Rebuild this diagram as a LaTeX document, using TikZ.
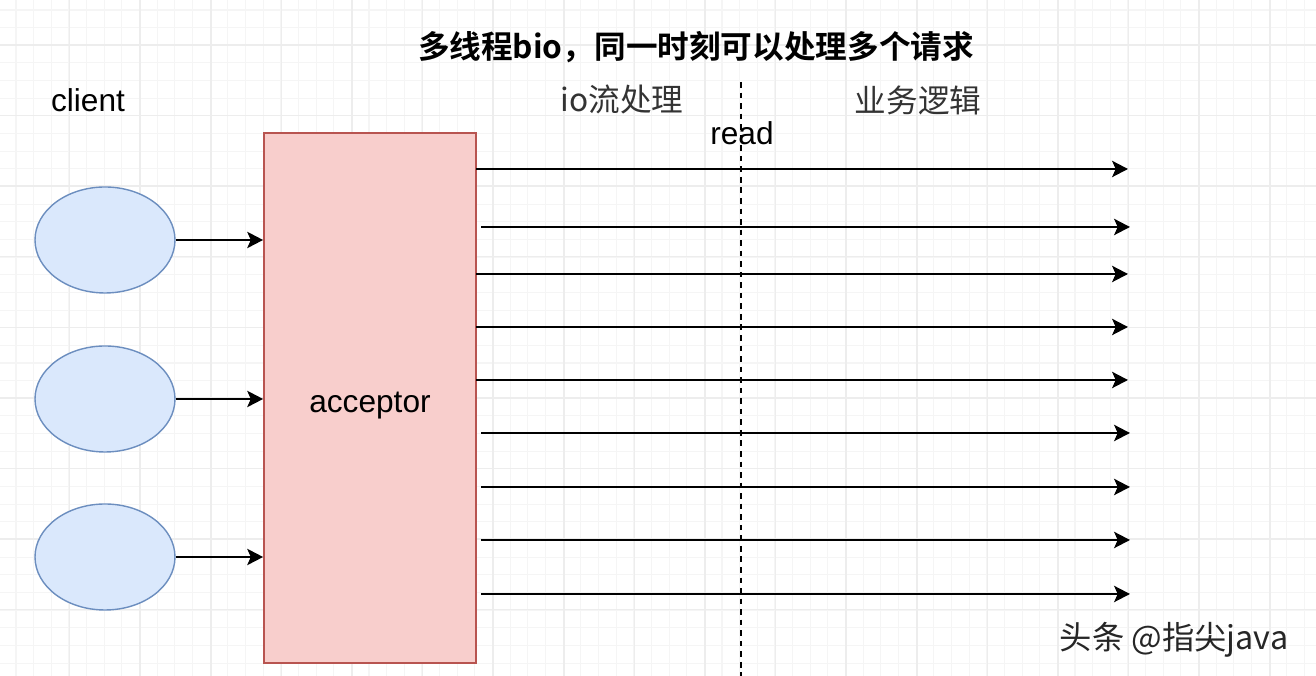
\documentclass[tikz,border=0pt]{standalone}
\usepackage{fontspec}
\setmainfont{Liberation Sans}
\newfontfamily\cjk{Noto Sans CJK SC}[BoldFont={Noto Sans CJK SC Bold}]
\usepackage{tikz}
\usetikzlibrary{shapes,arrows.meta,positioning,calc}
\definecolor{clientfill}{HTML}{DAE8FC}
\definecolor{clientdraw}{HTML}{6C8EBF}
\definecolor{accfill}{HTML}{F8CECC}
\definecolor{accdraw}{HTML}{B85450}
\tikzset{
client/.style = {draw=clientdraw, fill=clientfill, ellipse, minimum width=1.40cm, minimum height=1.06cm, inner sep=0pt, line width=0.4pt},
acceptor/.style = {draw=accdraw, fill=accfill, rectangle, minimum width=2.12cm, minimum height=5.30cm, inner sep=0pt, line width=0.5pt},
label/.style = {font=\fontsize{9pt}{11pt}\selectfont, inner sep=1pt},
gridminor/.style = {draw=black!4, line width=0.3pt},
gridmajor/.style = {draw=black!7, line width=0.4pt},
flow/.style = {->, line width=0.75pt},
}
\begin{document}
\begin{tikzpicture}[>={Stealth[length=4.5pt,width=4.6pt,inset=1pt]}]
        \useasboundingbox (0,0) rectangle (13.16,6.76);
        \fill[white] (0,0) rectangle (13.16,6.76);
        %grid
        \foreach \x in {0,...,74} {
            \draw[gridminor] (0.16+\x*0.1765,0) -- (0.16+\x*0.1765,6.76);
        }
        \foreach \y in {0,...,38} {
            \draw[gridminor] (0,6.66-\y*0.1765) -- (13.16,6.66-\y*0.1765);
        }
        \foreach \x in {0,...,19} {
            \draw[gridmajor] (-0.01+\x*0.706,0) -- (-0.01+\x*0.706,6.76);
        }
        \foreach \y in {0,...,9} {
            \draw[gridmajor] (0,6.31-\y*0.706) -- (13.16,6.31-\y*0.706);
        }

        %texts
        \node [label, font=\cjk\bfseries\fontsize{9pt}{11pt}\selectfont] (title) at(6.96,6.29) {多线程bio，同一时刻可以处理多个请求};
        \node [label] (clientlbl) at(0.88,5.76) {client};
        \node [label, font=\cjk\fontsize{9pt}{11pt}\selectfont, text=black!80] (iolbl) at(6.22,5.76) {io流处理};
        \node [label, font=\cjk\fontsize{9pt}{11pt}\selectfont, text=black!80] (bizlbl) at(9.18,5.76) {业务逻辑};

        %read line
        \coordinate (rtop) at(7.41,5.94);
        \coordinate (rbot) at(7.41,0);
        \draw[line width=0.7pt, dash pattern=on 1.6pt off 1.4pt] (rtop) -- (rbot);
        \node [label] (readlbl) at(7.42,5.43) {read};

        %clients
        \node [client] (c1) at(1.05,4.36) {};
        \node [client] (c2) at(1.05,2.77) {};
        \node [client] (c3) at(1.05,1.19) {};
        \node [acceptor] (acc) at(3.70,2.78) {};
        \node [label] (acclbl) at(3.70,2.70) {acceptor};
        \draw [flow] (c1.east) -- (c1.east -| acc.west);
        \draw [flow] (c2.east) -- (c2.east -| acc.west);
        \draw [flow] (c3.east) -- (c3.east -| acc.west);

        %threads
        \foreach \i/\y/\sx/\ex in {1/5.07/4.76/11.28, 2/4.49/4.81/11.30, 3/4.02/4.76/11.28,
                                 4/3.49/4.76/11.28, 5/2.96/4.76/11.28, 6/2.43/4.81/11.30,
                                 7/1.89/4.81/11.30, 8/1.36/4.81/11.30, 9/0.82/4.81/11.30} {
            \coordinate (s\i) at(\sx,\y);
            \coordinate (e\i) at(\ex,\y);
            \draw [flow] (s\i) -- (e\i);
        }

        \node [label, font=\cjk\fontsize{9.2pt}{11pt}\selectfont, text=black!85] (mark) at(11.74,0.36) {头条 @指尖java};
\end{tikzpicture}
\end{document}
